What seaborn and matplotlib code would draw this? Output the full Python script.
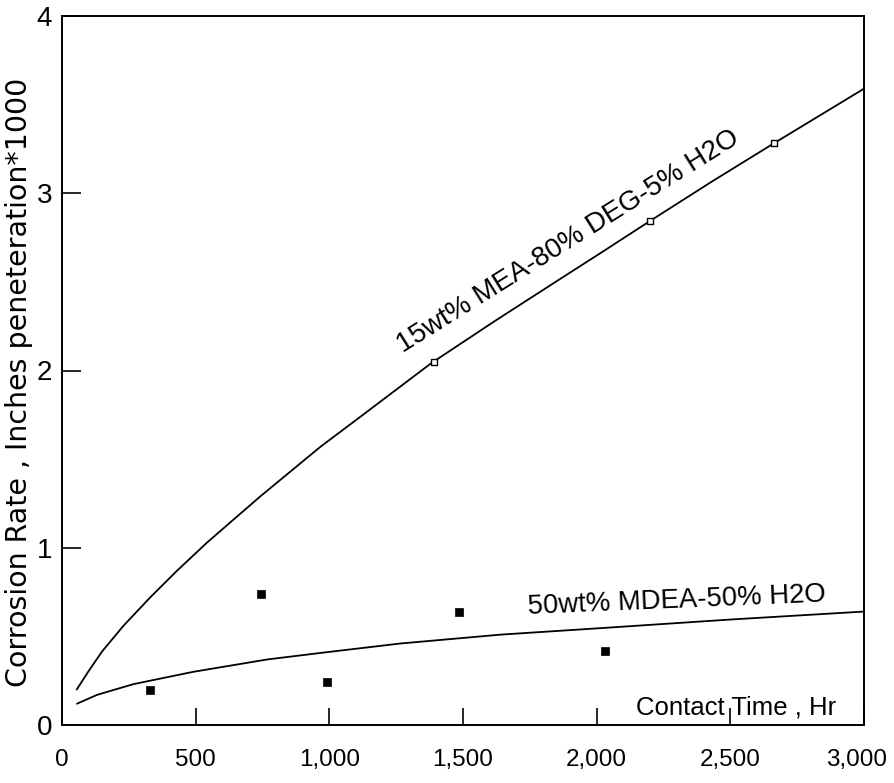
import matplotlib
matplotlib.use("Agg")
import matplotlib.pyplot as plt
import matplotlib.transforms as mtransforms
import seaborn as sns
import pandas as pd

# ---- data ----
mea_curve_x = [55, 100, 150, 230, 330, 430, 543, 742, 967, 1117, 1380, 1620, 1867, 2017, 2201, 2430, 2661, 3000]
mea_curve_y = [0.20, 0.305, 0.415, 0.56, 0.72, 0.87, 1.03, 1.29, 1.57, 1.74, 2.04, 2.28, 2.52, 2.665, 2.845, 3.065, 3.28, 3.59]
mea_points_x = [1390, 2200, 2665]
mea_points_y = [2.05, 2.845, 3.285]

mdea_curve_x = [56, 131, 266, 330, 491, 769, 986, 1267, 1642, 2000, 2500, 3000]
mdea_curve_y = [0.12, 0.17, 0.23, 0.25, 0.30, 0.37, 0.41, 0.46, 0.51, 0.545, 0.595, 0.64]
mdea_points_x = [330, 745, 990, 1485, 2030]
mdea_points_y = [0.20, 0.74, 0.24, 0.64, 0.42]

x_ticks = [0, 500, 1000, 1500, 2000, 2500, 3000]
x_tick_labels = ["0", "500", "1,000", "1,500", "2,000", "2,500", "3,000"]
y_ticks = [0, 1, 2, 3, 4]
y_tick_labels = ["0", "1", "2", "3", "4"]

label_mea = "15wt% MEA-80% DEG-5% H2O"
label_mdea = "50wt% MDEA-50% H2O"
x_title = "Contact Time , Hr"
y_title = "Corrosion Rate , Inches peneteration*1000"

# ---- styling ----
sns.set_theme(style="white")
plt.rcParams["font.family"] = ["Liberation Sans", "DejaVu Sans"]

fig = plt.figure(figsize=(8.94, 7.83), dpi=100)
ax = fig.add_axes([62 / 894, 58 / 783, 802 / 894, 709 / 783])

mea_df = pd.DataFrame({"x": mea_curve_x, "y": mea_curve_y})
mdea_df = pd.DataFrame({"x": mdea_curve_x, "y": mdea_curve_y})

sns.lineplot(data=mea_df, x="x", y="y", ax=ax, color="black", lw=1.3, sort=True)
sns.lineplot(data=mdea_df, x="x", y="y", ax=ax, color="black", lw=1.3, sort=True)

sns.scatterplot(x=mea_points_x, y=mea_points_y, ax=ax, marker="s", s=22,
                facecolor="white", edgecolor="black", linewidth=1.0, zorder=5)
sns.scatterplot(x=mdea_points_x, y=mdea_points_y, ax=ax, marker="s", s=32,
                color="black", edgecolor="black", linewidth=0.5, zorder=5)

ax.set_xlim(0, 3000)
ax.set_ylim(0, 4)
ax.set_xticks(x_ticks)
ax.set_xticklabels(x_tick_labels, fontsize=17.5)
ax.set_yticks(y_ticks)
ax.set_yticklabels(y_tick_labels, fontsize=20)
ax.tick_params(axis="x", direction="in", length=12, width=1.2, pad=17,
               colors="black", bottom=True, top=False)
ax.tick_params(axis="y", direction="in", length=14, width=1.2, pad=7,
               colors="black", left=True, right=False)
ax.set_xlabel("")
ax.set_ylabel("")

# nudge the last x label inward so it stays inside the image, as in the reference
last = ax.get_xticklabels()[-1]
last.set_transform(last.get_transform() +
                   mtransforms.ScaledTranslation(-7 / 100, 0, fig.dpi_scale_trans))

for sp in ax.spines.values():
    sp.set_visible(True)
    sp.set_color("black")
    sp.set_linewidth(1.4)

ax.text(1894, 2.73, label_mea, rotation=32, ha="center", va="center",
        fontsize=20, color="black")
ax.text(2298, 0.70, label_mdea, rotation=2.4, ha="center", va="center",
        fontsize=19.8, color="black")
ax.text(2520, 0.096, x_title, ha="center", va="center",
        fontsize=18.5, color="black")

fig.text(19 / 894, 1 - 382 / 783, y_title, rotation=90, ha="center", va="center",
         fontsize=20.5, family=["DejaVu Sans"], color="black")

fig.savefig("out.png", dpi=100, facecolor="white")
